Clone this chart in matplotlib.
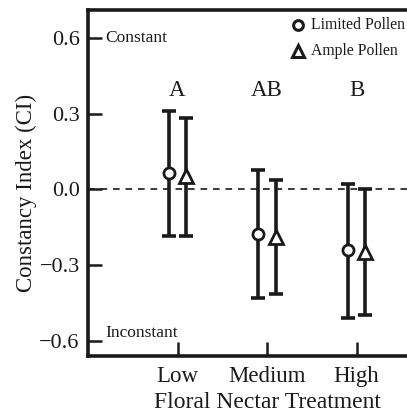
import matplotlib
matplotlib.use("Agg")
import matplotlib.pyplot as plt
import numpy as np
from matplotlib.lines import Line2D

plt.rcParams['font.family'] = ['Liberation Serif', 'DejaVu Serif']

categories = ["Low", "Medium", "High"]
series = ["Limited Pollen", "Ample Pollen"]
limited_mean = [0.063, -0.178, -0.240]
limited_upper = [0.312, 0.075, 0.022]
limited_lower = [-0.186, -0.430, -0.508]
ample_mean = [0.052, -0.190, -0.250]
ample_upper = [0.284, 0.036, 0.000]
ample_lower = [-0.186, -0.413, -0.497]
group_letters = ["A", "AB", "B"]
yticks = [0.6, 0.3, 0.0, -0.3, -0.6]
ytick_labels = ["0.6", "0.3", "0.0", "\u22120.3", "\u22120.6"]

W, H = 407, 412
fig = plt.figure(figsize=(W/100, H/100), dpi=100)
ax = fig.add_axes([88/W, 1-356/H, (446-88)/W, (356-10)/H])

dark = '#1a1a1a'
x = np.arange(1, len(categories)+1)
off = 0.095
lw = 2.6

def draw(xs, mean, lo, hi, marker, ms):
    mean = np.array(mean); lo = np.array(lo); hi = np.array(hi)
    ax.errorbar(xs, mean, yerr=[mean-lo, hi-mean], fmt='none', ecolor=dark,
                elinewidth=lw, capsize=5, capthick=lw, zorder=2)
    ax.plot(xs, mean, linestyle='none', marker=marker, markersize=ms,
            markerfacecolor='white', markeredgecolor=dark, markeredgewidth=2, zorder=3)

draw(x-off, limited_mean, limited_lower, limited_upper, 'o', 8)
draw(x+off, ample_mean, ample_lower, ample_upper, '^', 10)

ax.axhline(0, color=dark, lw=1.2, ls=(0, (4, 3.5)), zorder=1)

ax.set_xlim(0, 4)
ax.set_ylim(-0.66, 0.71)
ax.set_xticks(x)
ax.set_xticklabels(categories, fontsize=16.5)
ax.set_yticks(yticks)
ax.set_yticklabels(ytick_labels, fontsize=16)
ax.tick_params(direction='in', length=10, width=1.8, pad=6, colors=dark)
ax.tick_params(axis='x', pad=7)
for s in ax.spines.values():
    s.set_linewidth(2.6)
    s.set_color(dark)

ax.set_xlabel("Floral Nectar Treatment", fontsize=17, labelpad=4, color=dark)
ax.set_ylabel("Constancy Index (CI)", fontsize=16.5, color=dark)
ax.yaxis.set_label_coords(-0.143, 0.47)

for xi, letter in zip(x, group_letters):
    ax.text(xi, 0.39, letter, ha='center', va='center', fontsize=16.5, color=dark)

ax.text(0.19, 0.6, "Constant", ha='left', va='center', fontsize=12.5, color=dark)
ax.text(0.19, -0.6, "Inconstant", ha='left', va='bottom', fontsize=12.5, color=dark)

# legend (manual placement in figure pixels)
leg = [(series[0], 'o', 7, 25), (series[1], '^', 9, 51)]
for label, mk, ms, ypix in leg:
    fig.add_artist(Line2D([298/W], [1-ypix/H], ls='none', marker=mk, markersize=ms,
                          markerfacecolor='white', markeredgecolor=dark, markeredgewidth=2.2))
    fig.text(311/W, 1-ypix/H, label, ha='left', va='center', fontsize=11.3, color=dark)

fig.savefig("out.png", dpi=100)
